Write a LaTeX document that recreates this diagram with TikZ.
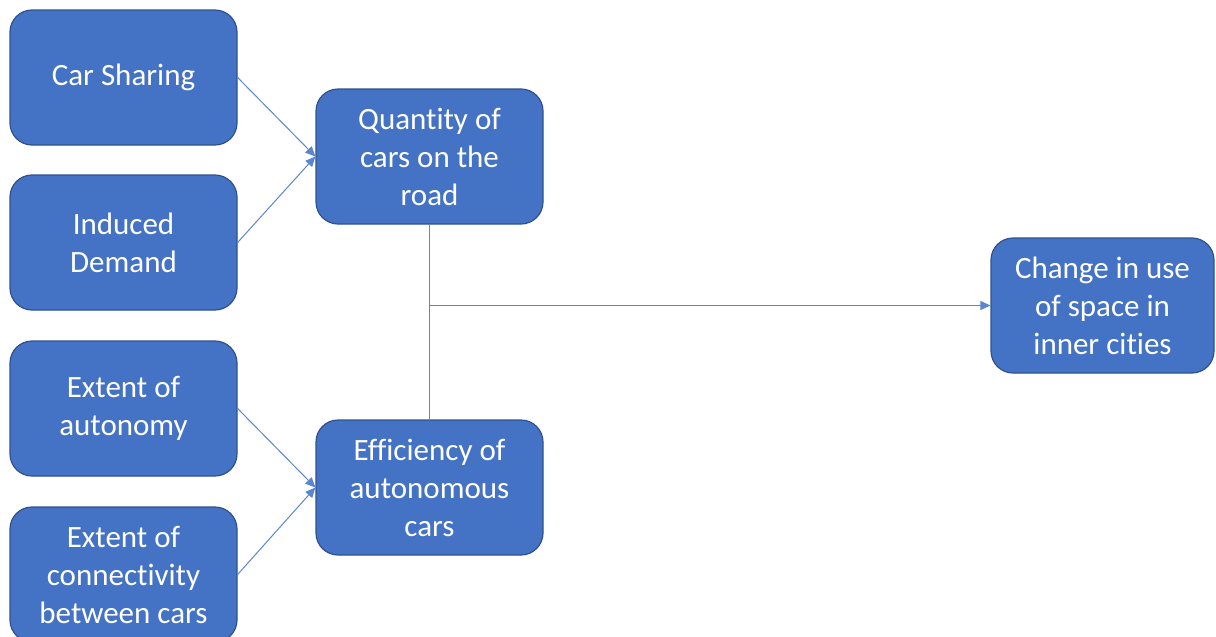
\documentclass[tikz,border=0pt]{standalone}
\usepackage{fontspec}
\setmainfont[RawFeature={-liga;-clig;-calt}]{Carlito}
\usetikzlibrary{arrows.meta}
\definecolor{boxblue}{HTML}{4472C4}
\definecolor{boxedge}{HTML}{2F528F}
\definecolor{linkblue}{HTML}{5B85D0}

\begin{document}
\begin{tikzpicture}[x=1pt, y=-1pt, >={Triangle[length=10pt, width=9pt]},
  line join=round,
  factor/.style={draw=boxedge, line width=1.2pt, fill=boxblue,
    rounded corners=22pt, minimum width=227pt, minimum height=135pt,
    text=white, align=center, inner sep=0pt,
    font=\fontsize{31}{38}\selectfont},
  link/.style={draw=linkblue, line width=1pt}]
  \useasboundingbox (0,0) rectangle (1216,637);

  % Input factors
  \node[factor] (share) at (123.5, 77.5) {Car Sharing};
  \node[factor] (induced) at (123.5, 242.5) {Induced\\Demand};
  \node[factor] (autonomy) at (123.5, 408.5) {Extent of\\autonomy};
  \node[factor] (connect) at (123.5, 574.5) {Extent of\\connectivity\\between cars};

  % Intermediate factors
  \node[factor] (quantity) at (429.5, 156.5) {Quantity of\\cars on the\\road};
  \node[factor] (efficiency) at (429.5, 487.5) {Efficiency of\\autonomous\\cars};

  % Outcome
  \node[factor, minimum width=223pt] (space) at (1102.5, 305.5) {Change in use\\of space in\\inner cities};

  % Links
  \draw[link, ->] (share.east) -- (quantity.west);
  \draw[link, ->] (induced.east) -- (quantity.west);
  \draw[link, ->] (autonomy.east) -- (efficiency.west);
  \draw[link, ->] (connect.east) -- (efficiency.west);

  \coordinate (junction) at (quantity.south |- space.west);
  \draw[link] (quantity.south) -- (efficiency.north);
  \draw[link, ->] (junction) -- (space.west);
\end{tikzpicture}
\end{document}
